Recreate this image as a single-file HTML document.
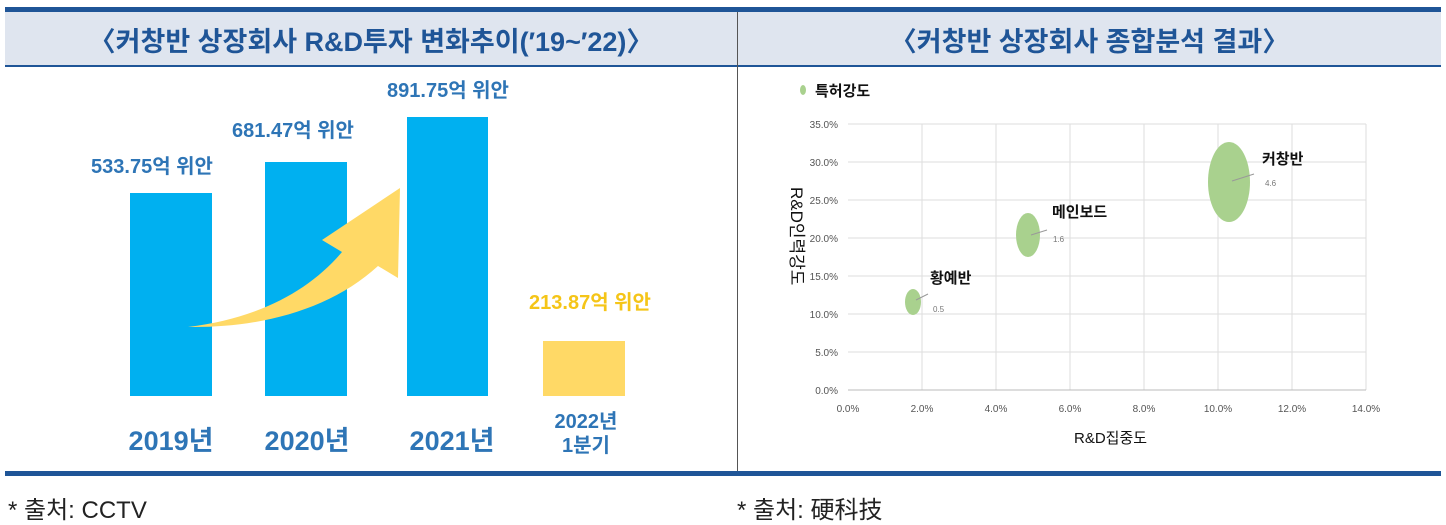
<!DOCTYPE html>
<html><head><meta charset="utf-8"><style>
body{margin:0;width:1446px;height:523px;background:#fff;position:relative;overflow:hidden;font-family:"Liberation Sans","Noto Sans CJK KR",sans-serif}
.a{position:absolute}
</style></head><body>
<div class="a" style="left:5px;top:7px;width:1436px;height:5px;background:#1f5597"></div>
<div class="a" style="left:5px;top:12px;width:1436px;height:53px;background:#dfe5ef"></div>
<div class="a" style="left:5px;top:65px;width:1436px;height:2px;background:#1f5597"></div>
<div class="a" style="left:737px;top:12px;width:1px;height:460px;background:#555"></div>
<div class="a" style="left:5px;top:471px;width:1436px;height:5px;background:#1f5597"></div>
<div class="a" style="left:5px;top:20px;width:732px;text-align:center;font-size:27px;color:#1f5597;font-weight:bold">〈커창반 상장회사 R&amp;D투자 변화추이(′19~′22)〉</div>
<div class="a" style="left:738px;top:20px;width:703px;text-align:center;font-size:27px;color:#1f5597;font-weight:bold">〈커창반 상장회사 종합분석 결과〉</div>
<div class="a" style="left:8px;top:490px;font-size:24px;color:#222">* 출처: CCTV</div>
<div class="a" style="left:737px;top:490px;font-size:24px;color:#222">* 출처: 硬科技</div>
<svg class="a" style="left:0;top:0" width="1446" height="523">
<g fill="#00b0f0"><rect x="130" y="193" width="82" height="203"/><rect x="265" y="162" width="82" height="234"/><rect x="407" y="117" width="81" height="279"/></g>
<rect x="543" y="341" width="82" height="55" fill="#ffd966"/>
<path d="M188,327 C260,318 310,290 342,252 L322,240 L400,188 L398,278 L378,266 C330,310 260,328 188,327Z" fill="#ffd966"/>
<g font-weight="bold" font-size="20" fill="#2e75b6" font-family="Liberation Sans,Noto Sans CJK KR,sans-serif">
<text x="152" y="173" text-anchor="middle">533.75억 위안</text>
<text x="293" y="137" text-anchor="middle">681.47억 위안</text>
<text x="448" y="97" text-anchor="middle">891.75억 위안</text>
<text x="590" y="309" text-anchor="middle" fill="#f5c518">213.87억 위안</text>
<text x="171" y="450" text-anchor="middle" font-size="27">2019년</text>
<text x="307" y="450" text-anchor="middle" font-size="27">2020년</text>
<text x="452" y="450" text-anchor="middle" font-size="27">2021년</text>
<text x="586" y="428" text-anchor="middle">2022년</text>
<text x="586" y="452" text-anchor="middle">1분기</text>
</g>
<g stroke="#ddd" stroke-width="1">
<line x1="848" y1="124" x2="1366" y2="124"/><line x1="848" y1="162" x2="1366" y2="162"/><line x1="848" y1="200" x2="1366" y2="200"/><line x1="848" y1="238" x2="1366" y2="238"/><line x1="848" y1="276" x2="1366" y2="276"/><line x1="848" y1="314" x2="1366" y2="314"/><line x1="848" y1="352" x2="1366" y2="352"/>
<line x1="922" y1="124" x2="922" y2="390"/><line x1="996" y1="124" x2="996" y2="390"/><line x1="1070" y1="124" x2="1070" y2="390"/><line x1="1144" y1="124" x2="1144" y2="390"/><line x1="1218" y1="124" x2="1218" y2="390"/><line x1="1292" y1="124" x2="1292" y2="390"/><line x1="1366" y1="124" x2="1366" y2="390"/>
</g>
<line x1="848" y1="390" x2="1366" y2="390" stroke="#bbb"/>
<g fill="#555" font-size="10" font-family="Liberation Sans Narrow,Liberation Sans,sans-serif" text-anchor="end">
<text x="838" y="128">35.0%</text><text x="838" y="166">30.0%</text><text x="838" y="204">25.0%</text><text x="838" y="242">20.0%</text><text x="838" y="280">15.0%</text><text x="838" y="318">10.0%</text><text x="838" y="356">5.0%</text><text x="838" y="394">0.0%</text>
</g>
<g fill="#555" font-size="10" text-anchor="middle">
<text x="848" y="412">0.0%</text><text x="922" y="412">2.0%</text><text x="996" y="412">4.0%</text><text x="1070" y="412">6.0%</text><text x="1144" y="412">8.0%</text><text x="1218" y="412">10.0%</text><text x="1292" y="412">12.0%</text><text x="1366" y="412">14.0%</text>
</g>
<g fill="#a9d18e">
<ellipse cx="913" cy="302" rx="8" ry="13"/><ellipse cx="1028" cy="235" rx="12" ry="22"/><ellipse cx="1229" cy="182" rx="21" ry="40"/>
<ellipse cx="803" cy="90" rx="3" ry="5"/>
</g>
<g stroke="#999"><line x1="916" y1="300" x2="928" y2="294"/><line x1="1031" y1="235" x2="1047" y2="230"/><line x1="1232" y1="181" x2="1254" y2="174"/></g>
<g fill="#777" font-size="8"><text x="933" y="312">0.5</text><text x="1053" y="242">1.6</text><text x="1265" y="186">4.6</text></g>
<g fill="#111" font-size="15" font-weight="bold">
<text x="930" y="283">황예반</text><text x="1052" y="217">메인보드</text><text x="1262" y="164">커창반</text>
<text x="815" y="96">특허강도</text>
<text x="1074" y="443" font-weight="normal">R&amp;D집중도</text>
<text transform="translate(791,187) rotate(90)" font-weight="normal" font-size="17">R&amp;D인력강도</text>
</g>
</svg>
</body></html>
